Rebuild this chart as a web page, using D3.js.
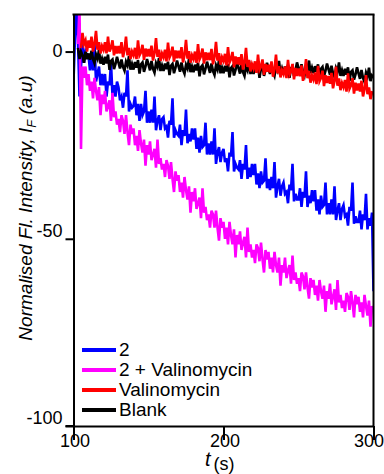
<!DOCTYPE html>
<html>
<head>
<meta charset="utf-8">
<script src="https://cdn.jsdelivr.net/npm/d3@7"></script>
<style>
  body { margin: 0; background: #fff; }
  svg { display: block; }
</style>
</head>
<body>
<svg width="384" height="474"></svg>
<script>
// sample times, every 1 s from 100 to 300
const times = d3.range(100, 301, 1);

// "2"
const blue = [-8, 4, 12, 3, -12, -4, 2, -3, 0, -1,
  -1, -5, -1, -5, 2, -8, -6, -4, -9, -6,
  -9, -6, -12, -8, -9, -3, -12, -9, -12, -8,
  -9.5, -13, -12, -15, -11, -12, -5, -16, -14, -15,
  -14.5, -12, -17, -14, -18.5, -14, -17, -16, -10.5, -19,
  -16, -19, -15.5, -19, -12, -21, -18.5, -17, -21, -18,
  -17.5, -20.5, -20, -23, -18.5, -19.5, -12.5, -23, -21, -22,
  -22.5, -19.5, -25, -21, -22.5, -15.5, -24.5, -22, -24, -20.5,
  -23.5, -20.5, -26, -23, -27, -22.5, -25.5, -25, -19, -27.5,
  -24.5, -27.5, -24, -27.5, -20.5, -30, -27, -25.5, -29.5, -27,
  -26, -29.5, -28.5, -32, -27, -28, -21.5, -32, -30, -31,
  -31.5, -29, -34, -30, -31.5, -25, -34, -31, -33.5, -30,
  -33, -30, -35.5, -32.5, -36.5, -32, -35, -34.5, -28.5, -36.5,
  -34, -37, -33.5, -36.5, -29.5, -39, -36, -34, -38.5, -36,
  -35, -38, -37.5, -40.5, -35.5, -37, -30, -40, -38, -39.5,
  -39.5, -36.5, -41.5, -37.5, -39, -32, -41.5, -38.5, -40.5, -37,
  -40, -37, -42.5, -39.5, -43.5, -38.5, -41.5, -41, -35, -43.5,
  -40.5, -43.5, -39.5, -43.5, -36, -45, -42.5, -40.5, -45, -42,
  -41, -44, -43.5, -46.5, -41.5, -42.5, -35, -46, -44, -45.5,
  -45.5, -42.5, -47.5, -43.5, -45, -38, -47.5, -44.5, -46.5, -43,
  -64];

// "2 + Valinomycin"
const magenta = [null, null, null, 2, 12, -26, -4, -7, -4, -9,
  -6, -10.5, -8, -12.5, -7, -10.5, -13, -9.5, -17, -11.5,
  -14, -10.5, -16, -14.5, -13, -18.5, -11, -17.5, -16, -19.5,
  -18, -21.5, -17, -18.5, -22, -17, -21.5, -25, -19.5, -22,
  -20.5, -25, -22.5, -26.5, -21, -24.5, -27, -23.5, -30.5, -25,
  -27.5, -24, -29, -27.5, -26, -31, -23.5, -30, -28.5, -31.5,
  -30, -33.5, -29, -30.5, -34, -29.5, -34, -37.5, -32, -34.5,
  -33, -37.5, -35, -39, -33.5, -37, -39.5, -36, -43, -37.5,
  -40, -36.5, -42, -40.5, -39, -44.5, -36.5, -43, -41.5, -45,
  -43.5, -47, -42.5, -43.5, -47, -42.5, -47, -50.5, -44.5, -47,
  -45.5, -50, -47, -51.5, -45.5, -49, -51.5, -47.5, -55, -49,
  -51.5, -48, -53, -51, -49.5, -55, -47, -53.5, -51.5, -55,
  -53, -56.5, -51.5, -52.5, -56, -51, -55.5, -59, -53, -55.5,
  -53.5, -58, -55, -59, -53.5, -57, -59, -55, -62.5, -57,
  -59, -55, -60.5, -58.5, -57, -62, -54.5, -61, -59, -62,
  -60.5, -64, -59, -60, -63.5, -59, -63, -66, -60.5, -63,
  -61, -65, -62.5, -66.5, -61, -64, -66, -62.5, -69.5, -64,
  -66, -62, -67.5, -65.5, -63.5, -69, -61, -67, -65, -68.5,
  -66.5, -69.5, -64.5, -65.5, -69, -64, -67, -71, -65, -67.5,
  -65.5, -69.5, -67, -71, -65, -68, -70.5, -66.5, -73.5, -68,
  -69];

// "Valinomycin"
const red = [null, null, null, null, null, 1, 5, 2, 3, 0,
  3, 1, 4, 0, 2, 5.5, 0.5, 2.5, -0.5, 1.5,
  0.5, 2.5, -0.5, 4, 0, 1, 3, -1, 1.5, -0.5,
  1.5, -0.5, 2.5, -1.5, 0.5, 4, -1, 1, -2, 0,
  -1, 1, -2, 3, -1, -0.2, 1.8, -2.2, 0.8, -1.3,
  0.7, -1.3, 1.6, -2.4, -0.4, 3.6, -1.4, 0.5, -2.5, -0.5,
  -1.5, 0.5, -2.6, 2.4, -1.6, -0.7, 1.3, -2.7, 0.3, -1.8,
  0.2, -1.8, 1.2, -2.9, -0.9, 3.1, -1.9, 0.1, -3, -1,
  -2, 0, -3, 2, -2.1, -1.2, 0.8, -3.2, -0.2, -2.3,
  -0.3, -2.3, 0.7, -3.4, -1.4, 2.6, -2.4, -0.4, -3.5, -1.5,
  -2.5, -0.6, -3.7, 1.2, -2.9, -2, -0.1, -4.2, -1.3, -3.4,
  -1.5, -3.6, -0.7, -4.8, -2.9, 1, -4.1, -2.2, -5.3, -3.4,
  -4.5, -2.6, -5.7, -0.8, -4.9, -4, -2.1, -6.2, -3.3, -5.4,
  -3.5, -5.6, -2.6, -6.7, -4.7, -0.8, -5.8, -3.9, -6.9, -5,
  -6, -4, -7.1, -2.2, -6.2, -5.3, -3.3, -7.4, -4.4, -6.5,
  -4.5, -6.6, -3.7, -7.8, -5.9, -2, -7.1, -5.2, -8.3, -6.4,
  -7.5, -5.6, -8.7, -3.8, -7.9, -7, -5.1, -9.2, -6.3, -8.4,
  -6.5, -8.6, -5.7, -9.8, -7.9, -4, -9.1, -7.2, -10.3, -8.4,
  -9.5, -7.6, -10.7, -5.8, -9.9, -9, -7.1, -11.2, -8.3, -10.4,
  -8.5, -10.7, -7.8, -12, -10.1, -6.3, -11.4, -9.6, -12.7, -10.9,
  -11];

// "Blank"
const black = [null, null, null, 1, -2, 0, -1, -3, 0, -2,
  -0.5, -2.2, 0.2, -2, -3.1, -0.8, -1.9, 0.5, -3.2, -1.9,
  -3.5, -1.4, -3.2, -0.8, -4.9, -2.5, -2.1, -4.7, -3.3, -1.4,
  -3, -4.5, -2.1, -4.1, -5.1, -2.7, -3.7, -1.2, -4.8, -3.3,
  -4.8, -2.8, -4.3, -2.3, -5.9, -3.4, -2.9, -5.4, -4, -2,
  -3.5, -5, -2.5, -4.6, -5.6, -3.1, -4.1, -1.7, -5.2, -3.7,
  -5.2, -3.2, -4.7, -2.7, -6.3, -3.8, -3.3, -5.8, -4.3, -2.4,
  -3.9, -5.4, -2.9, -4.9, -5.9, -3.5, -4.5, -2, -5.5, -4,
  -5.5, -3.5, -5, -3, -6.6, -4.1, -3.6, -6.1, -4.6, -2.7,
  -4.2, -5.7, -3.2, -5.2, -6.2, -3.7, -4.8, -2.3, -5.8, -4.3,
  -5.8, -3.8, -5.3, -3.3, -6.9, -4.4, -3.9, -6.4, -4.9, -2.9,
  -4.4, -5.9, -3.4, -5.5, -6.5, -4, -5, -2.5, -6, -4.5,
  -6, -4, -5.5, -3.5, -7, -4.5, -4, -6.5, -5, -3,
  -4.5, -6, -3.5, -5.5, -6.5, -4, -5, -2.5, -6, -4.5,
  -6, -4, -5.5, -3.5, -7, -4.5, -4, -6.5, -4.9, -2.9,
  -4.4, -5.9, -3.4, -5.4, -6.4, -3.9, -4.9, -2.4, -5.8, -4.3,
  -5.8, -3.9, -5.4, -3.4, -6.9, -4.6, -4.1, -6.6, -5.1, -3.2,
  -4.7, -6.2, -3.8, -5.8, -6.8, -4.4, -5.4, -2.9, -6.5, -5,
  -6.5, -4.6, -6.2, -4.2, -7.8, -5.4, -5, -7.5, -6.1, -4.2,
  -5.8, -7.3, -4.9, -7, -8.1, -5.6, -6.7, -4.3, -7.9, -6.4,
  -7];

const seriesNames = ["2", "2 + Valinomycin", "Valinomycin", "Blank"];
const seriesColors = ["#0000ff", "#ff00ff", "#ff0000", "#000000"];
const seriesValues = [blue, magenta, red, black];
const drawOrder = [0, 1, 3, 2];

const xTicks = [100, 200, 300];
const yTicks = [0, -50, -100];

const mLeft = 73.5, mRight = 373.5, mTop = 14.5, mBottom = 426;
const fontFam = "Arial, 'Liberation Sans', sans-serif";

var svg = d3.select("svg");

var x = d3.scaleLinear().domain([100, 300]).range([mLeft, mRight]);
var y = d3.scaleLinear().domain([-100, 9.9]).range([mBottom, mTop]);

svg.append("clipPath").attr("id", "plotclip")
  .append("rect")
  .attr("x", mLeft).attr("y", mTop)
  .attr("width", mRight - mLeft).attr("height", mBottom - mTop);

var line = d3.line()
  .defined(d => d[1] !== null)
  .x(d => x(d[0]))
  .y(d => y(d[1]));

var plot = svg.append("g").attr("clip-path", "url(#plotclip)");

drawOrder.forEach(k => {
  plot.append("path")
    .datum(times.map((t, i) => [t, seriesValues[k][i]]))
    .attr("fill", "none")
    .attr("stroke", seriesColors[k])
    .attr("stroke-width", 2.6)
    .attr("d", line);
});

// frame: top and right
svg.append("line")
  .attr("x1", x(100) - 1).attr("x2", x(300) + 1)
  .attr("y1", mTop).attr("y2", mTop)
  .attr("stroke", "#000").attr("stroke-width", 2);
svg.append("line")
  .attr("x1", x(300)).attr("x2", x(300))
  .attr("y1", mTop).attr("y2", mBottom)
  .attr("stroke", "#000").attr("stroke-width", 2);

// x axis
var xAxis = svg.append("g")
  .attr("transform", "translate(0," + mBottom + ")")
  .call(d3.axisBottom(x).tickValues(xTicks).tickFormat(d => String(d))
    .tickSize(14).tickSizeOuter(0).tickPadding(-6));
xAxis.select(".domain").attr("stroke-width", 2);
xAxis.selectAll(".tick line").attr("stroke-width", 2);
xAxis.selectAll("text")
  .attr("font-family", fontFam)
  .attr("font-size", "18px")
  .attr("fill", "#000")
  .attr("dy", "0.71em")
  .attr("text-anchor", d => d === 300 ? "end" : "middle")
  .attr("x", d => d === 300 ? 10 : 1);

// y axis
var yAxis = svg.append("g")
  .attr("transform", "translate(" + mLeft + ",0)")
  .call(d3.axisLeft(y).tickValues(yTicks).tickFormat(d => String(d))
    .tickSize(8).tickSizeOuter(0).tickPadding(3));
yAxis.select(".domain").attr("stroke-width", 2);
yAxis.selectAll(".tick line").attr("stroke-width", 2);
yAxis.selectAll("text")
  .attr("font-family", fontFam)
  .attr("font-size", "18px")
  .attr("fill", "#000")
  .attr("dy", d => d === 0 ? "0.3em" : "-0.12em");

// extend bottom axis line to the -100 tick
svg.append("line")
  .attr("x1", mLeft - 8).attr("x2", mLeft)
  .attr("y1", mBottom).attr("y2", mBottom)
  .attr("stroke", "#000").attr("stroke-width", 2);

// axis titles
var ylab = svg.append("text")
  .attr("transform", "translate(32,208) rotate(-90)")
  .attr("text-anchor", "middle")
  .attr("font-family", fontFam)
  .attr("font-style", "italic")
  .attr("font-size", "19px")
  .attr("fill", "#000");
ylab.append("tspan").text("Normalised Fl. Intensity, I");
ylab.append("tspan").attr("font-size", "13px").attr("dy", 4).text("F");
ylab.append("tspan").attr("dy", -4).text(" (a.u)");

var xlab = svg.append("text")
  .attr("x", 205).attr("y", 466)
  .attr("font-family", fontFam)
  .attr("fill", "#000");
xlab.append("tspan").attr("font-style", "italic").attr("font-size", "20px").text("t");
xlab.append("tspan").attr("font-size", "18px").attr("dx", 3).attr("dy", 4).text("(s)");

// legend
var legend = svg.append("g").attr("transform", "translate(82,350)");
seriesNames.forEach((name, i) => {
  var g = legend.append("g").attr("transform", "translate(0," + (i * 20) + ")");
  g.append("line")
    .attr("x1", 0).attr("x2", 34)
    .attr("y1", 0).attr("y2", 0)
    .attr("stroke", seriesColors[i])
    .attr("stroke-width", 4);
  g.append("text")
    .attr("x", 37).attr("y", 6)
    .attr("font-family", fontFam)
    .attr("font-size", "19px")
    .attr("fill", "#000")
    .text(name);
});
</script>
</body>
</html>
